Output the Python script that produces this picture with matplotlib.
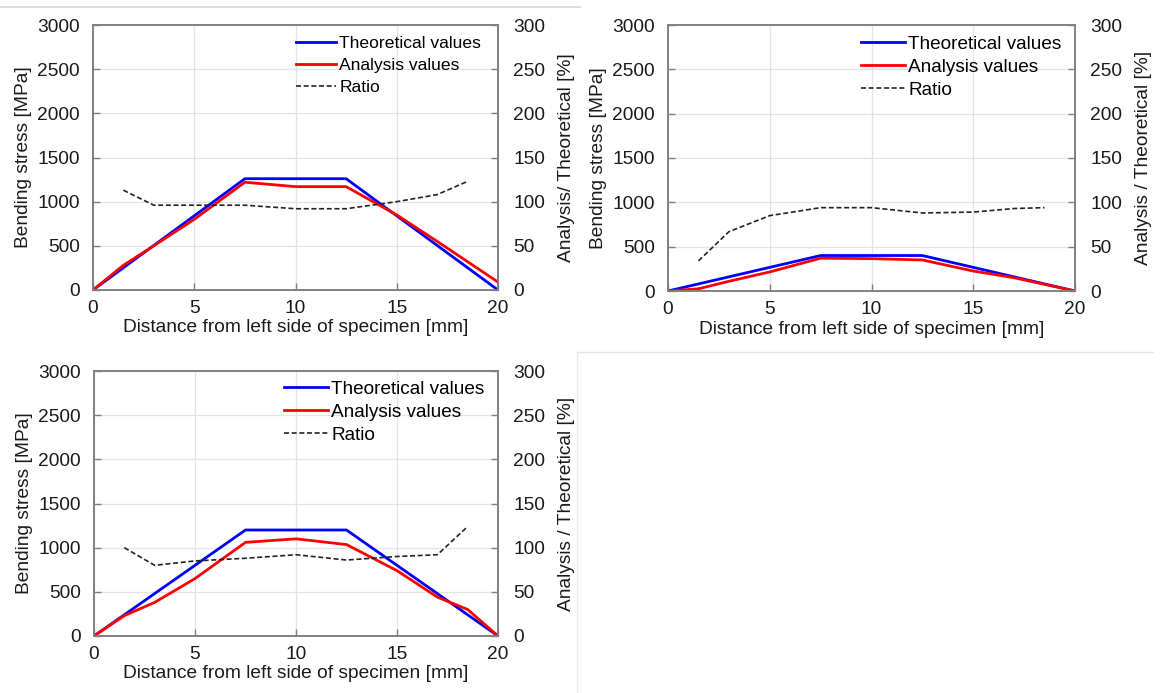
import matplotlib
matplotlib.use("Agg")
import matplotlib.pyplot as plt
from matplotlib.lines import Line2D

plt.rcParams['font.family'] = ['Liberation Sans', 'DejaVu Sans']

# ---------------- data ----------------
x_pos = [0, 1.5, 3, 5, 7.5, 10, 12.5, 15, 17, 18.5, 20]
x_ratio = [1.5, 3, 5, 7.5, 10, 12.5, 15, 17, 18.5]
x_theory = [0, 7.5, 12.5, 20]

# panel 1 (top left)
theory1 = [0, 1260, 1260, 0]
analysis1 = [0, 280, 500, 800, 1220, 1170, 1170, 850, 550, 320, 90]
ratio1 = [113, 96, 96, 96, 92, 92, 100, 108, 123]

# panel 2 (top right)
theory2 = [0, 400, 400, 0]
analysis2 = [0, 25, 110, 215, 370, 365, 350, 225, 150, 75, 0]
ratio2 = [34, 67, 85, 94, 94, 88, 89, 93, 94]

# panel 3 (bottom left)
theory3 = [0, 1200, 1200, 0]
analysis3 = [0, 230, 380, 650, 1060, 1100, 1035, 740, 440, 300, 0]
ratio3 = [100, 80, 85, 88, 92, 86, 90, 92, 124]

xlabel = "Distance from left side of specimen [mm]"
ylabel_left = "Bending stress [MPa]"
ylabel_right = ["Analysis/ Theoretical [%]", "Analysis / Theoretical [%]", "Analysis / Theoretical [%]"]
legend_labels = ["Theoretical values", "Analysis values", "Ratio"]
x_ticks = [0, 5, 10, 15, 20]
y_ticks = [0, 500, 1000, 1500, 2000, 2500, 3000]
y2_ticks = [0, 50, 100, 150, 200, 250, 300]

# ---------------- figure ----------------
W, H = 1160, 693
fig = plt.figure(figsize=(W / 100, H / 100), dpi=100)

def px_axes(l, t, r, b):
    return [l / W, 1 - b / H, (r - l) / W, (b - t) / H]

panels = [
    dict(rect=px_axes(93, 25, 498, 290), th=theory1, an=analysis1, ra=ratio1,
         y2lab=ylabel_right[0], leg=(0.500, 0.960), legfs=12.6, ls=0.38),
    dict(rect=px_axes(668, 25, 1075, 291), th=theory2, an=analysis2, ra=ratio2,
         y2lab=ylabel_right[1], leg=(0.474, 0.960), legfs=13.7, ls=0.29),
    dict(rect=px_axes(94, 371, 498, 636), th=theory3, an=analysis3, ra=ratio3,
         y2lab=ylabel_right[2], leg=(0.470, 0.964), legfs=13.7, ls=0.29),
]

FS = 13.8
spine_col = '#808080'
grid_col = '#e3e3e3'

for p in panels:
    ax = fig.add_axes(p['rect'])
    ax2 = ax.twinx()
    ax.set_zorder(1)
    ax2.set_zorder(2)
    ax.patch.set_visible(False)

    ax.plot(x_theory, p['th'], color='#0000ff', lw=2.0, zorder=3)
    ax.plot(x_pos, p['an'], color='#ff0000', lw=2.0, zorder=4)
    ax2.plot(x_ratio, p['ra'], color='#222222', lw=1.2, ls=(0, (3, 1.6)))

    ax.set_xlim(0, 20)
    ax.set_ylim(0, 3000)
    ax2.set_ylim(0, 300)
    ax.set_xticks(x_ticks)
    ax.set_yticks(y_ticks)
    ax2.set_yticks(y2_ticks)
    ax.grid(True, color=grid_col, lw=0.9)
    ax.set_axisbelow(True)

    for a in (ax, ax2):
        for s in a.spines.values():
            s.set_color(spine_col)
            s.set_linewidth(1.2)
        a.tick_params(direction='in', length=5, width=1.0, color=spine_col,
                      labelsize=FS, labelcolor='#1a1a1a')
    ax.tick_params(axis='x', pad=7)
    ax.tick_params(axis='y', pad=9.5)
    ax2.tick_params(axis='y', pad=11)

    ax.set_xlabel(xlabel, fontsize=FS, color='#1a1a1a', labelpad=2)
    ax.set_ylabel(ylabel_left, fontsize=FS, color='#1a1a1a', labelpad=4)
    ax2.set_ylabel(p['y2lab'], fontsize=FS, color='#1a1a1a', labelpad=9)

    handles = [Line2D([], [], color='#0000ff', lw=2.0),
               Line2D([], [], color='#ff0000', lw=2.0),
               Line2D([], [], color='#222222', lw=1.2, ls=(0, (3, 1.6)))]
    ax2.legend(handles, legend_labels, loc='upper left', bbox_to_anchor=p['leg'],
               frameon=False, fontsize=p['legfs'], borderpad=0, borderaxespad=0,
               handlelength=2.3, handletextpad=0.2, labelspacing=p['ls'])

# decorative separator lines from the source page
fig.add_artist(Line2D([0, 580 / W], [1 - 7 / H, 1 - 7 / H], color='#d4d4d4', lw=1.2))
fig.add_artist(Line2D([577 / W, 1153 / W], [1 - 352 / H, 1 - 352 / H], color='#e6e6e6', lw=1.0))
fig.add_artist(Line2D([577 / W, 577 / W], [1 - 352 / H, 0], color='#ececec', lw=1.0))

fig.savefig("out.png", dpi=100)
